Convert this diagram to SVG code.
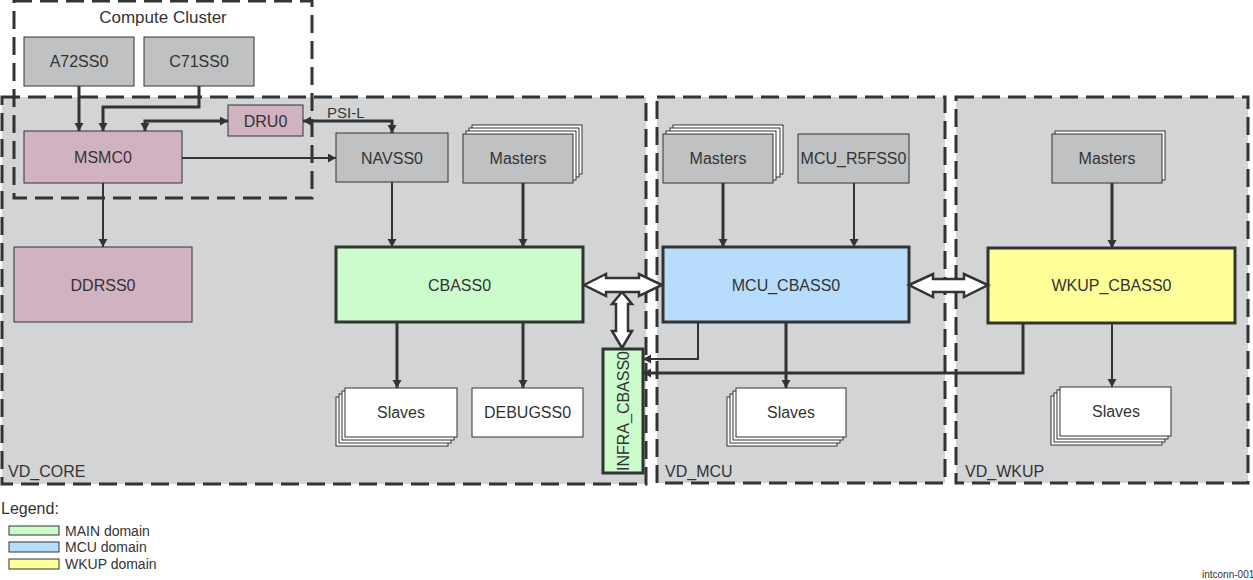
<svg xmlns="http://www.w3.org/2000/svg" width="1253" height="580" viewBox="0 0 1253 580">
<defs>
<style>
.dom{fill:#d3d4d6;stroke:#333;stroke-width:3;stroke-dasharray:18 8}
.clu{fill:none;stroke:#333;stroke-width:3;stroke-dasharray:18 8}
.g{fill:#c0c1c3;stroke:#333;stroke-width:1}
.w{fill:#fff;stroke:#333;stroke-width:1}
.p{fill:#d1b2c1;stroke:#333;stroke-width:1}
.main{fill:#ccfccc;stroke:#333;stroke-width:3}
.mcu{fill:#b8ddfc;stroke:#333;stroke-width:3}
.wk{fill:#ffff99;stroke:#333;stroke-width:3}
text{font-family:"Liberation Sans",Arial,sans-serif;fill:#333;font-size:16px}
.c{text-anchor:middle}
.ln{fill:none;stroke:#333}
.t2{stroke-width:2}
.t3{stroke-width:3}
.big{fill:#fff;stroke:#333;stroke-width:2.5;stroke-linejoin:miter}
.lg{font-size:14px}
</style>
<marker id="ah" markerUnits="userSpaceOnUse" markerWidth="9" markerHeight="10" refX="8" refY="4.5" orient="auto-start-reverse">
<path d="M0,0 L8,4.5 L0,9 z" fill="#333"/>
</marker>
</defs>
<rect width="1253" height="580" fill="#fff"/>

<g id="vd_core"><rect class="dom" x="2" y="97" width="644" height="387"/><text x="8" y="477">VD_CORE</text></g>
<g id="vd_mcu"><rect class="dom" x="657" y="97" width="288" height="386"/><text x="665" y="477">VD_MCU</text></g>
<g id="vd_wkup"><rect class="dom" x="956" y="97" width="292" height="386"/><text x="965" y="477">VD_WKUP</text></g>

<g id="a72ss0"><rect class="g" x="24" y="37" width="110" height="49"/><text class="c" x="79" y="67">A72SS0</text></g>
<g id="c71ss0"><rect class="g" x="144" y="37" width="110" height="49"/><text class="c" x="199" y="67">C71SS0</text></g>
<g id="msmc0"><rect class="p" x="24" y="131" width="158" height="52"/><text class="c" x="103" y="163">MSMC0</text></g>
<g id="dru0"><rect class="p" x="228" y="105" width="75" height="31"/><text class="c" x="265.5" y="127">DRU0</text></g>
<g id="navss0"><rect class="g" x="336" y="133" width="112" height="49"/><text class="c" x="392" y="164">NAVSS0</text></g>
<g id="core_masters"><rect class="w" x="472" y="125" width="110" height="49"/><rect class="w" x="469" y="128" width="110" height="49"/><rect class="w" x="466" y="131" width="110" height="49"/><rect class="g" x="463" y="134" width="110" height="49"/><text class="c" x="518" y="164">Masters</text></g>
<g id="ddrss0"><rect class="p" x="14" y="247" width="178" height="75"/><text class="c" x="103" y="291">DDRSS0</text></g>
<g id="cbass0"><rect class="main" x="336" y="247" width="247" height="75"/><text class="c" x="459.5" y="291">CBASS0</text></g>
<g id="core_slaves"><rect class="w" x="336" y="397" width="112" height="49"/><rect class="w" x="339" y="394" width="112" height="49"/><rect class="w" x="342" y="391" width="112" height="49"/><rect class="w" x="345" y="388" width="112" height="49"/><text class="c" x="401" y="418">Slaves</text></g>
<g id="debugss0"><rect class="w" x="472" y="388" width="111" height="49"/><text class="c" x="527.5" y="418">DEBUGSS0</text></g>
<g id="infra_cbass0"><rect class="main" x="603" y="349" width="40" height="124"/><text class="c" transform="translate(629,411) rotate(-90)">INFRA_CBASS0</text></g>

<g id="mcu_masters"><rect class="w" x="673" y="125" width="110" height="49"/><rect class="w" x="670" y="128" width="110" height="49"/><rect class="w" x="666" y="131" width="110" height="49"/><rect class="g" x="663" y="134" width="110" height="49"/><text class="c" x="718" y="164">Masters</text></g>
<g id="mcu_r5fss0"><rect class="g" x="798" y="134" width="111" height="49"/><text class="c" x="853.5" y="164">MCU_R5FSS0</text></g>
<g id="mcu_cbass0"><rect class="mcu" x="663" y="247" width="246" height="75"/><text class="c" x="786" y="291">MCU_CBASS0</text></g>
<g id="mcu_slaves"><rect class="w" x="727" y="397" width="110" height="49"/><rect class="w" x="730" y="394" width="110" height="49"/><rect class="w" x="733" y="391" width="110" height="49"/><rect class="w" x="736" y="388" width="110" height="49"/><text class="c" x="791" y="418">Slaves</text></g>

<g id="wkup_masters"><rect class="w" x="1055" y="131" width="110" height="49"/><rect class="g" x="1052" y="134" width="110" height="49"/><text class="c" x="1107" y="164">Masters</text></g>
<g id="wkup_cbass0"><rect class="wk" x="988" y="248" width="247" height="75"/><text class="c" x="1111.5" y="291">WKUP_CBASS0</text></g>
<g id="wkup_slaves"><rect class="w" x="1051" y="396" width="111" height="49"/><rect class="w" x="1054" y="393" width="111" height="49"/><rect class="w" x="1057" y="390" width="111" height="49"/><rect class="w" x="1060" y="387" width="111" height="49"/><text class="c" x="1116" y="417">Slaves</text></g>

<g id="compute_cluster"><rect class="clu" x="14" y="1" width="298" height="197"/><text class="c" x="163" y="23" style="font-size:17px">Compute Cluster</text></g>

<g id="connectors">
<path class="ln t3" d="M79,86 V131" marker-end="url(#ah)"/>
<path class="ln t3" d="M199,86 V107 H103 V131" marker-end="url(#ah)"/>
<path class="ln t3" d="M145,131 V121 H228" marker-start="url(#ah)" marker-end="url(#ah)"/>
<path class="ln t3" d="M303,121 H392 V133" marker-start="url(#ah)" marker-end="url(#ah)"/>
<text x="327" y="118" style="font-size:15px">PSI-L</text>
<path class="ln t2" d="M182,158 H336" marker-end="url(#ah)"/>
<path class="ln t2" d="M103,183 V247" marker-end="url(#ah)"/>
<path class="ln t2" d="M392,182 V247" marker-end="url(#ah)"/>
<path class="ln t3" d="M523,183 V247" marker-end="url(#ah)"/>
<path class="ln t3" d="M397,322 V388" marker-end="url(#ah)"/>
<path class="ln t3" d="M523,322 V388" marker-end="url(#ah)"/>
<path class="ln t3" d="M723,183 V247" marker-end="url(#ah)"/>
<path class="ln t2" d="M854,183 V247" marker-end="url(#ah)"/>
<path class="ln t3" d="M786,322 V388" marker-end="url(#ah)"/>
<path class="ln t2" d="M698,322 V359 H643" marker-end="url(#ah)"/>
<path class="ln t3" d="M1023,323 V373 H643" marker-end="url(#ah)"/>
<path class="ln t3" d="M1112,183 V248" marker-end="url(#ah)"/>
<path class="ln t2" d="M1112,323 V387" marker-end="url(#ah)"/>
<polygon class="big" points="622,292 632,304 628,304 628,331 632,331 622,348 612,331 616,331 616,304 612,304"/>
<polygon class="big" points="584,285 606,274 606,278 639,278 639,274 662,285 639,296 639,292 606,292 606,296"/>
<polygon class="big" points="909,285 933,274 933,279 964,279 964,274 988,285 964,297 964,292 933,292 933,297"/>
</g>

<g id="legend">
<text x="1" y="514">Legend:</text>
<rect x="9" y="526" width="50" height="9" fill="#ccfccc" stroke="#333"/>
<text class="lg" x="65" y="536">MAIN domain</text>
<rect x="9" y="542" width="50" height="10" fill="#b8ddfc" stroke="#333"/>
<text class="lg" x="65" y="552">MCU domain</text>
<rect x="9" y="559" width="50" height="10" fill="#ffff99" stroke="#333"/>
<text class="lg" x="65" y="569">WKUP domain</text>
</g>
<text x="1202" y="578" style="font-size:10px">intconn-001</text>
</svg>
